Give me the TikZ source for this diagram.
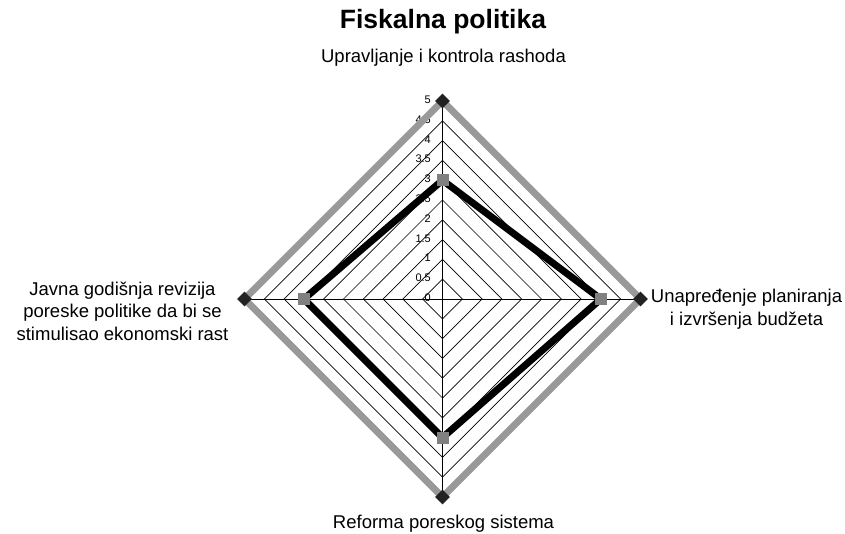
\documentclass[tikz,border=0pt]{standalone}
\usepackage{fontspec}
\setmainfont{Liberation Sans}
\definecolor{targetgray}{HTML}{999999}
\definecolor{markgray}{HTML}{808080}
\definecolor{markdark}{HTML}{222222}
\usetikzlibrary{shapes.geometric,positioning}

\begin{document}
\begin{tikzpicture}[
      x=39.6pt,y=39.6pt,
      ring/.style={draw=black,line width=0.7pt},
      spoke/.style={draw=black,line width=0.7pt},
      ticklabel/.style={anchor=east,inner sep=0pt,
                        font=\fontsize{11}{13}\selectfont},
      axislabel/.style={inner sep=0pt,align=center,
                        font=\fontsize{18.5}{22.5}\selectfont},
      charttitle/.style={inner sep=0pt,
                         font=\fontsize{26.5}{30}\selectfont\bfseries},
      target/.style={draw=targetgray,line width=7pt},
      actual/.style={draw=black,line width=7pt},
      sqmark/.style={rectangle,fill=markgray,minimum size=12pt,inner sep=0pt},
      dmmark/.style={diamond,fill=markdark,minimum size=15pt,inner sep=0pt}
    ]
      \useasboundingbox (-442.5pt,-234pt) rectangle (402.5pt,299pt);

      \coordinate (c) at (0,0);
      \coordinate (tN) at (0,5);
      \coordinate (tE) at (5,0);
      \coordinate (tS) at (0,-5);
      \coordinate (tW) at (-5,0);
      \coordinate (aN) at (0,3);
      \coordinate (aE) at (4,0);
      \coordinate (aS) at (0,-3.5);
      \coordinate (aW) at (-3.5,0);

      \foreach \r in {0.5,1,...,5}
        \draw[ring] (0,\r) -- (\r,0) -- (0,-\r) -- (-\r,0) -- cycle;
      \foreach \p in {tN,tE,tS,tW}
        \draw[spoke] (c) -- (\p);
      \foreach \v [count=\i] in {0,0.5,1,1.5,2,2.5,3,3.5,4,4.5,5}
        \node[ticklabel] (tick\i) at ([xshift=-11.5pt,yshift=1.2pt]0,\v) {\v};

      \draw[target] (tN) -- (tE) -- (tS) -- (tW) -- cycle;
      \draw[actual] (aN) -- (aE) -- (aS) -- (aW) -- cycle;
      \foreach \p in {aN,aE,aS,aW}
        \node[sqmark] (m\p) at (\p) {};
      \foreach \p in {tN,tE,tS,tW}
        \node[dmmark] (m\p) at (\p) {};

      \node[charttitle,anchor=base] (title) at (0.5pt,270pt) {Fiskalna politika};
      \node[axislabel,anchor=base] (lblN) at (1pt,236pt) {Upravljanje i kontrola rashoda};
      \node[axislabel,right=2.5pt of mtE,yshift=-10pt] (lblE)
        {Unapređenje planiranja\\i izvršenja budžeta};
      \node[axislabel,anchor=base] (lblS) at (1pt,-229pt) {Reforma poreskog sistema};
      \node[axislabel] (lblW) at (-320pt,-12pt)
        {Javna godišnja revizija\\poreske politike da bi se\\stimulisao ekonomski rast};
    \end{tikzpicture}
\end{document}
